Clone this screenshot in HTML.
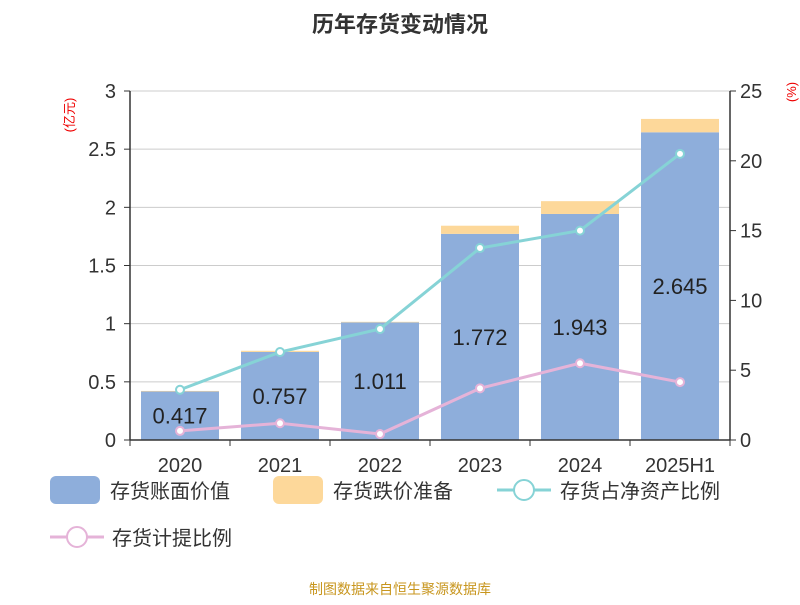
<!DOCTYPE html>
<html><head><meta charset="utf-8"><style>
body{margin:0;background:#fff;font-family:"Liberation Sans","Noto Sans CJK SC",sans-serif}
svg text{font-family:"Liberation Sans","Noto Sans CJK SC",sans-serif}
</style></head><body>
<svg id="c" width="800" height="600">
<text x="400" y="32" text-anchor="middle" font-size="22" font-weight="bold" fill="#333">历年存货变动情况</text>
<text transform="translate(74,115) rotate(-90)" text-anchor="middle" font-size="13" fill="#e00">(亿元)</text>
<text transform="translate(796,92) rotate(-90)" text-anchor="middle" font-size="13" fill="#e00">(%)</text>
<g id="grid"></g><g id="bars"></g><g id="lines"></g><g id="axes"></g>
<g>
<rect x="50" y="476" width="50" height="28" rx="6" fill="#8eaedb"/>
<text x="110" y="498" font-size="20" fill="#333">存货账面价值</text>
<rect x="273" y="476" width="50" height="28" rx="6" fill="#fdd89a"/>
<text x="333" y="498" font-size="20" fill="#333">存货跌价准备</text>
<line x1="497" y1="490" x2="551" y2="490" stroke="#86d3d6" stroke-width="3"/>
<circle cx="524" cy="490" r="10" fill="#fff" stroke="#86d3d6" stroke-width="2"/>
<text x="560" y="498" font-size="20" fill="#333">存货占净资产比例</text>
<line x1="50" y1="537" x2="104" y2="537" stroke="#e5b3d8" stroke-width="3"/>
<circle cx="77" cy="537" r="10" fill="#fff" stroke="#e5b3d8" stroke-width="2"/>
<text x="112" y="545" font-size="20" fill="#333">存货计提比例</text>
</g>
<text x="400" y="594" text-anchor="middle" font-size="14" fill="#c8961e">制图数据来自恒生聚源数据库</text>
</svg>
<script>
const categories=["2020","2021","2022","2023","2024","2025H1"];
const bookValues=[0.417,0.757,1.011,1.772,1.943,2.645];
const reserveValues=[0.005,0.01,0.005,0.07,0.11,0.115];
const netAssetRatio=[3.6,6.3,7.95,13.75,15.0,20.5];
const provisionRatio=[0.65,1.2,0.43,3.7,5.5,4.15];
const leftTicks=[0,0.5,1,1.5,2,2.5,3];
const rightTicks=[0,5,10,15,20,25];
const NS="http://www.w3.org/2000/svg";
const X0=130,X1=730,Y0=440,Y1=91;
const band=(X1-X0)/categories.length;
const xc=i=>X0+band*(i+0.5);
const yL=v=>Y0-(v/3)*(Y0-Y1);
const yR=v=>Y0-(v/25)*(Y0-Y1);
function mk(t,a,p){const e=document.createElementNS(NS,t);for(const k in a)e.setAttribute(k,a[k]);p.appendChild(e);return e;}
const G=document.getElementById('grid'),B=document.getElementById('bars'),L=document.getElementById('lines'),A=document.getElementById('axes');
leftTicks.forEach(t=>{const y=yL(t);
const g=mk('line',{x1:X0,x2:X1,y1:y,y2:y,stroke:'#ccc','stroke-width':1},G);


mk('line',{x1:X0-6,x2:X0,y1:y,y2:y,stroke:'#333'},A);
const tx=mk('text',{x:X0-14,y:y+7,'text-anchor':'end','font-size':20,fill:'#333'},A);tx.textContent=t;

});
rightTicks.forEach(t=>{const y=yR(t);
mk('line',{x1:X1,x2:X1+6,y1:y,y2:y,stroke:'#333'},A);
const tx=mk('text',{x:X1+10,y:y+7,'font-size':20,fill:'#333'},A);tx.textContent=t;

});
mk('line',{x1:X0,x2:X0,y1:Y1,y2:Y0,stroke:'#333','stroke-width':1.5},A);
mk('line',{x1:X1,x2:X1,y1:Y1,y2:Y0,stroke:'#333','stroke-width':1.5},A);
mk('line',{x1:X0,x2:X1,y1:Y0,y2:Y0,stroke:'#333','stroke-width':1.5},A);
const bw=78;
categories.forEach((c,i)=>{
mk('line',{x1:X0+band*i,x2:X0+band*i,y1:Y0,y2:Y0+6,stroke:'#333'},A);
const tx=mk('text',{x:xc(i),y:Y0+32,'text-anchor':'middle','font-size':20,fill:'#333'},A);tx.textContent=c;


const r=mk('rect',{x:xc(i)-bw/2,y:yL(bookValues[i]),width:bw,height:Y0-yL(bookValues[i]),fill:'#8eaedb'},B);


const top=bookValues[i]+reserveValues[i];
const r2=mk('rect',{x:xc(i)-bw/2,y:yL(top),width:bw,height:yL(bookValues[i])-yL(top),fill:'#fdd89a'},B);


const lb=mk('text',{x:xc(i),y:(yL(bookValues[i])+Y0)/2+8,'text-anchor':'middle','font-size':22,fill:'#222'},B);
lb.textContent=bookValues[i];


});
mk('line',{x1:X0+band*6,x2:X0+band*6,y1:Y0,y2:Y0+6,stroke:'#333'},A);
function line(vals,col,name){
const pl=mk('polyline',{points:vals.map((v,i)=>xc(i)+','+yR(v)).join(' '),fill:'none',stroke:col,'stroke-width':3},L);


vals.forEach((v,i)=>{const p=mk('circle',{cx:xc(i),cy:yR(v),r:4,fill:'#fff',stroke:col,'stroke-width':2},L);

});
}
line(netAssetRatio,'#86d3d6','net-asset-ratio');
line(provisionRatio,'#e5b3d8','provision-ratio');
</script>
</body></html>
